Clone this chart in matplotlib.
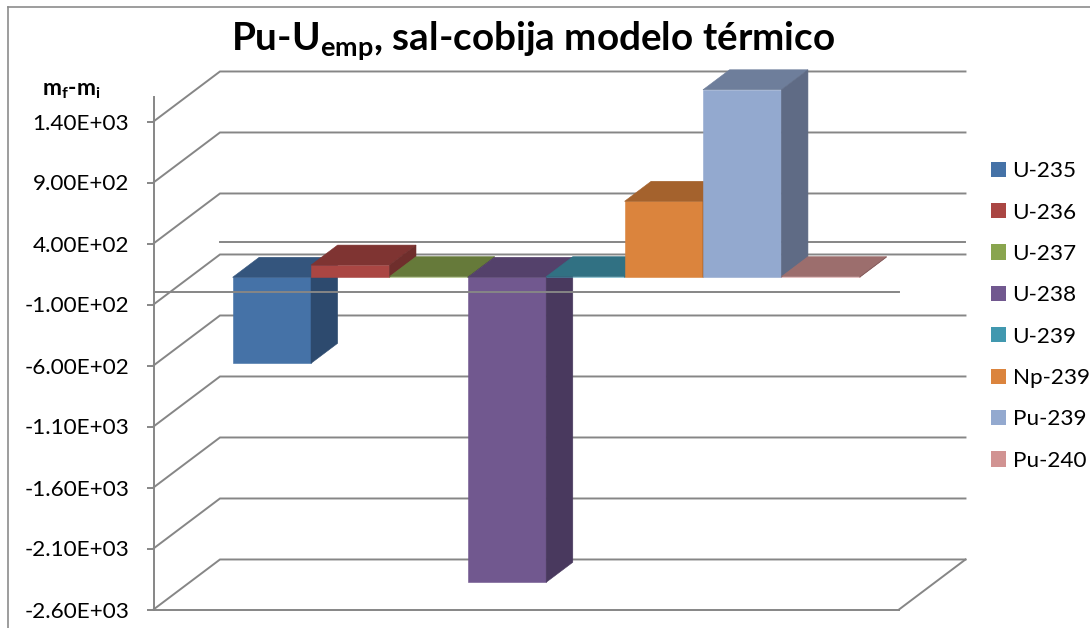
import matplotlib
matplotlib.use('Agg')
import matplotlib.pyplot as plt
from matplotlib.patches import Patch
from matplotlib.ticker import FormatStrFormatter

plt.rcParams['font.family'] = ['Lato', 'DejaVu Sans']
plt.rcParams['mathtext.fontset'] = 'custom'
plt.rcParams['mathtext.default'] = 'regular'

# Data
isotopes = ['U-235', 'U-236', 'U-237', 'U-238', 'U-239', 'Np-239', 'Pu-239', 'Pu-240']
mass_change = [-705, 100, 5, -2500, 5, 623, 1537, 5]
y_ticks = [-2600, -2100, -1600, -1100, -600, -100, 400, 900, 1400]

front_colors = ['#4572a7', '#aa4643', '#89a54e', '#71588f', '#4198af', '#db843d', '#93a9cf', '#d19392']
top_colors = ['#34557d', '#7f3432', '#667a3a', '#54416b', '#317183', '#a4622d', '#6e7e9b', '#9c6e6d']
side_colors = ['#2d4a6e', '#6f2e2c', '#5a6b33', '#49395e', '#2b6373', '#905628', '#5f6b85', '#895f5f']

GRID = '#868686'
LW = 1.4
# how far one full depth of the floor shifts a point, in data units
DEPTH_X = 0.848
DEPTH_Y = 410
BAR_FRONT = 0.3
BAR_BACK = 0.7
X_MIN, X_MAX = -0.755, 8.755


def grid_line(ax, y):
    ax.plot([X_MIN, X_MIN + DEPTH_X, X_MAX + DEPTH_X], [y, y + DEPTH_Y, y + DEPTH_Y],
            color=GRID, lw=LW, clip_on=False, zorder=1, solid_joinstyle='miter')


def draw_bar(ax, i, value):
    x0 = i + BAR_FRONT * DEPTH_X
    x1 = x0 + 1
    y0 = BAR_FRONT * DEPTH_Y
    y1 = y0 + value
    dx = (BAR_BACK - BAR_FRONT) * DEPTH_X
    dy = (BAR_BACK - BAR_FRONT) * DEPTH_Y
    top = max(y0, y1)
    ax.bar(x0, value, width=1, bottom=y0, align='edge', color=front_colors[i],
           edgecolor=front_colors[i], linewidth=0.4, clip_on=False, zorder=2 + i)
    ax.fill([x0, x1, x1 + dx, x0 + dx], [top, top, top + dy, top + dy],
            color=top_colors[i], lw=0.4, clip_on=False, zorder=2 + i)
    ax.fill([x1, x1 + dx, x1 + dx, x1], [y0, y0 + dy, y1 + dy, y1],
            color=side_colors[i], lw=0.4, clip_on=False, zorder=2 + i)


fig = plt.figure(figsize=(10.9, 6.28), dpi=100)
ax = fig.add_axes([153.5 / 1090, 1 - 609.5 / 628, 745.5 / 1090, 512.4 / 628])
ax.set_xlim(X_MIN, X_MAX)
ax.set_ylim(-2600, 1600)

for y in y_ticks:
    grid_line(ax, y)
# zero plane, front and back edges
ax.plot([X_MIN + DEPTH_X, X_MAX + DEPTH_X], [DEPTH_Y, DEPTH_Y], color=GRID, lw=LW, clip_on=False, zorder=1)
ax.plot([X_MIN, X_MAX], [0, 0], color=GRID, lw=LW, clip_on=False, zorder=20)
# right edge of the floor
ax.plot([X_MAX, X_MAX + DEPTH_X], [-2600, -2600 + DEPTH_Y], color=GRID, lw=LW, clip_on=False, zorder=1)

for i, value in enumerate(mass_change):
    draw_bar(ax, i, value)

for name in ['top', 'right']:
    ax.spines[name].set_visible(False)
for name in ['left', 'bottom']:
    ax.spines[name].set_color(GRID)
    ax.spines[name].set_linewidth(LW)

ax.set_xticks([])
ax.set_yticks(y_ticks)
ax.yaxis.set_major_formatter(FormatStrFormatter('%.2E'))
ax.tick_params(axis='y', length=5, width=LW, color=GRID, pad=12.5, labelsize=16.2, labelcolor='black')

fig.text(533 / 1090, 1 - 50 / 628, 'Pu-U$_{emp}$, sal-cobija modelo térmico',
         ha='center', va='baseline', fontsize=27.8, fontweight='bold')
fig.text(42 / 1090, 1 - 95 / 628, 'm$_{f}$-m$_{i}$', ha='left', va='baseline', fontsize=16.5, fontweight='bold')

handles = [Patch(facecolor=c, label=n) for c, n in zip(front_colors, isotopes)]
fig.legend(handles=handles, loc='center left', bbox_to_anchor=(984 / 1090, 1 - 316 / 628), frameon=False,
           fontsize=16.2, handlelength=0.667, handleheight=0.667, handletextpad=0.3, labelspacing=0.95,
           borderaxespad=0, borderpad=0.3)

# chart frame, only the top and left edges show in the picture
fig.add_artist(plt.Line2D([7.5 / 1090, 7.5 / 1090], [0, 1 - 6.5 / 628], color='#8c8c8c', lw=1.2))
fig.add_artist(plt.Line2D([7.5 / 1090, 1], [1 - 6.5 / 628, 1 - 6.5 / 628], color='#8c8c8c', lw=1.2))

fig.savefig('out.png', dpi=100)
plt.close(fig)
